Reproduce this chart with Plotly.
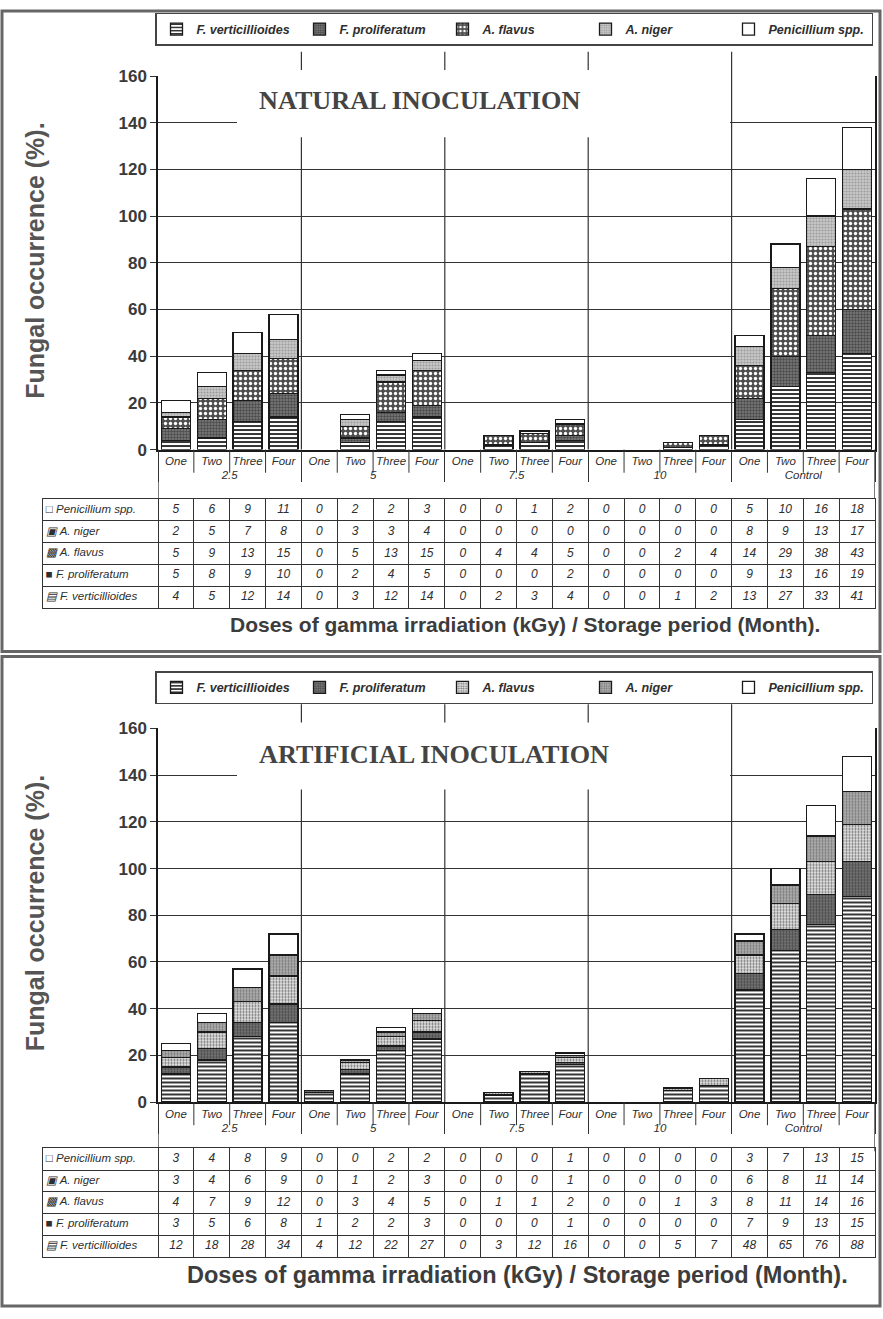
import plotly.graph_objects as go

W, H = 883, 1319

# ---------------- data ----------------
groups = ["2.5"] * 4 + ["5"] * 4 + ["7.5"] * 4 + ["10"] * 4 + ["Control"] * 4
months = ["One", "Two", "Three", "Four"] * 5
series_names = ["F. verticillioides", "F. proliferatum", "A. flavus", "A. niger", "Penicillium spp."]
table_symbols = ["▤", "■", "▩", "▣", "□"]
y_ticks = [0, 20, 40, 60, 80, 100, 120, 140, 160]

nat_vert = [4, 5, 12, 14, 0, 3, 12, 14, 0, 2, 3, 4, 0, 0, 1, 2, 13, 27, 33, 41]
nat_prol = [5, 8, 9, 10, 0, 2, 4, 5, 0, 0, 0, 2, 0, 0, 0, 0, 9, 13, 16, 19]
nat_flav = [5, 9, 13, 15, 0, 5, 13, 15, 0, 4, 4, 5, 0, 0, 2, 4, 14, 29, 38, 43]
nat_nig = [2, 5, 7, 8, 0, 3, 3, 4, 0, 0, 0, 0, 0, 0, 0, 0, 8, 9, 13, 17]
nat_pen = [5, 6, 9, 11, 0, 2, 2, 3, 0, 0, 1, 2, 0, 0, 0, 0, 5, 10, 16, 18]

art_vert = [12, 18, 28, 34, 4, 12, 22, 27, 0, 3, 12, 16, 0, 0, 5, 7, 48, 65, 76, 88]
art_prol = [3, 5, 6, 8, 1, 2, 2, 3, 0, 0, 0, 1, 0, 0, 0, 0, 7, 9, 13, 15]
art_flav = [4, 7, 9, 12, 0, 3, 4, 5, 0, 1, 1, 2, 0, 0, 1, 3, 8, 11, 14, 16]
art_nig = [3, 4, 6, 9, 0, 1, 2, 3, 0, 0, 0, 1, 0, 0, 0, 0, 6, 8, 11, 14]
art_pen = [3, 4, 8, 9, 0, 0, 2, 2, 0, 0, 0, 1, 0, 0, 0, 0, 3, 7, 13, 15]

nat_series = [nat_vert, nat_prol, nat_flav, nat_nig, nat_pen]
art_series = [art_vert, art_prol, art_flav, art_nig, art_pen]

# ---------------- styling ----------------
SANS = "Liberation Sans"
SERIF = "Liberation Serif"
INK = "#2e2e2e"


def px(x):
    return x / W


def py(y):
    return 1 - y / H


nat_patterns = [
    dict(shape="-", fgcolor="#1e1e1e", bgcolor="white", size=4, solidity=0.45),
    dict(shape=".", fgcolor="#4a4a4a", bgcolor="#7c7c7c", size=3, solidity=0.5),
    dict(shape=".", fgcolor="white", bgcolor="#4e4e4e", size=5, solidity=0.35),
    dict(shape=".", fgcolor="#9a9a9a", bgcolor="#c9c9c9", size=3, solidity=0.4),
    None,
]
art_patterns = [
    dict(shape="-", fgcolor="#1e1e1e", bgcolor="white", size=4, solidity=0.45),
    dict(shape=".", fgcolor="#4a4a4a", bgcolor="#7c7c7c", size=3, solidity=0.5),
    dict(shape=".", fgcolor="#6a6a6a", bgcolor="#e4e4e4", size=3, solidity=0.4),
    dict(shape=".", fgcolor="#7a7a7a", bgcolor="#b4b4b4", size=3, solidity=0.45),
    None,
]

panels = [
    dict(series=nat_series, patterns=nat_patterns, title="NATURAL INOCULATION",
         plot_top=68, plot_bot=447, legend_top=4, table_top=497, table_bot=608,
         xtitle_y=625, xtitle_x=525, title_y=93, frame=(2, 2, 880, 652), xtitle_size=21),
    dict(series=art_series, patterns=art_patterns, title="ARTIFICIAL INOCULATION",
         plot_top=730, plot_bot=1109, legend_top=672, table_top=1156, table_bot=1266,
         xtitle_y=1285, xtitle_x=517, title_y=756, frame=(2, 657, 880, 1316), xtitle_size=23.5),
]

fig = go.Figure()
layout = dict(
    width=W, height=H, margin=dict(l=0, r=0, t=0, b=0),
    paper_bgcolor="white", plot_bgcolor="white", barmode="stack", bargap=0.19,
    shapes=[], annotations=[], showlegend=True,
)

PLOT_L, PLOT_R = 158, 875
TABLE_L = 43
COL_W = (PLOT_R - PLOT_L) / 20.0
LABEL_UNITS = (PLOT_L - TABLE_L) / COL_W

for i, p in enumerate(panels):
    n = "" if i == 0 else "2"
    xa, ya = "x" + n, "y" + n
    tn = str(3 + 2 * i)           # table axes index
    txa, tya = "x" + tn, "y" + tn
    legend_name = "legend" + n

    for k, (name, vals, pat) in enumerate(zip(series_names, p["series"], p["patterns"])):
        marker = dict(color="white", line=dict(color="#1a1a1a", width=1.3))
        if pat is not None:
            marker["pattern"] = dict(fillmode="replace", **pat)
        fig.add_trace(go.Bar(
            x=[groups, months], y=[v if v else None for v in vals], name=name,
            marker=marker, xaxis=xa, yaxis=ya, legend=legend_name, showlegend=True,
        ))

    # axes
    layout["xaxis" + n] = dict(
        type="multicategory", domain=[px(PLOT_L), px(PLOT_R)], anchor=ya,
        range=[-0.5, 19.5], showline=True, linecolor="#1a1a1a", linewidth=1.5,
        showgrid=False, ticks="outside", ticklen=8, tickcolor="rgba(0,0,0,0)",
        tickangle=0, showdividers=True,
        dividercolor="#333", dividerwidth=1.2,
        tickfont=dict(family=SANS, size=11.5, style="italic", color=INK),
    )
    layout["yaxis" + n] = dict(
        domain=[py(p["plot_bot"]), py(p["plot_top"])], anchor=xa, range=[0, 160],
        tickvals=y_ticks, showgrid=True, gridcolor="#333", gridwidth=1.3,
        showline=True, linecolor="#1a1a1a", linewidth=1.5, mirror=True,
        ticks="outside", ticklen=6, tickcolor="#333", zeroline=False,
        tickfont=dict(family=SANS, size=17, weight="bold", color="#3a3a3a"),
    )

    # legend
    layout[legend_name] = dict(
        x=px(155), y=py(p["legend_top"]), xanchor="left", yanchor="top",
        orientation="h", traceorder="normal", bgcolor="white",
        bordercolor="#444", borderwidth=1.5, itemwidth=30,
        entrywidth=98, entrywidthmode="pixels",
        font=dict(family=SANS, size=12.5, weight="bold", style="italic", color=INK),
    )

    # vertical group separators in the plot area
    for b in [3.5, 7.5, 11.5, 15.5]:
        layout["shapes"].append(dict(
            type="line", xref=xa, yref=ya + " domain", x0=b, x1=b, y0=0, y1=1.065,
            line=dict(color="#333", width=1.2), layer="below",
        ))
    # separators between months in the label row
    for b in [0.5, 1.5, 2.5, 4.5, 5.5, 6.5, 8.5, 9.5, 10.5, 12.5, 13.5, 14.5, 16.5, 17.5, 18.5]:
        layout["shapes"].append(dict(
            type="line", xref=xa, yref=ya + " domain", x0=b, x1=b, y0=0, y1=-0.062,
            line=dict(color="#333", width=1),
        ))
    # outer edges of the label block down to the table
    for b in [-0.5, 19.5]:
        layout["shapes"].append(dict(
            type="line", xref=xa, yref=ya + " domain", x0=b, x1=b, y0=0, y1=-0.132,
            line=dict(color="#333", width=1.3),
        ))

    # white title box hiding upper gridlines
    off = p["plot_top"] - 68
    layout["shapes"].append(dict(
        type="rect", xref="paper", yref="paper", x0=px(237), x1=px(730),
        y0=py(off + 130), y1=py(off + 62), fillcolor="white", line=dict(width=0),
        layer="above",
    ))
    layout["annotations"].append(dict(
        text="<b>%s</b>" % p["title"], xref="paper", yref="paper",
        x=px(257), y=py(p["title_y"]), xanchor="left", yanchor="middle", showarrow=False,
        font=dict(family=SERIF, size=26.2, color="#444"),
    ))

    # y axis title
    mid = (p["plot_top"] + p["plot_bot"]) / 2 - 2
    layout["annotations"].append(dict(
        text="<b>Fungal occurrence (%).</b>", xref="paper", yref="paper",
        x=px(35), y=py(mid), textangle=-90, showarrow=False,
        xanchor="center", yanchor="middle",
        font=dict(family=SANS, size=25, color="#555"),
    ))
    # x axis title
    layout["annotations"].append(dict(
        text="<b>Doses of gamma irradiation (kGy) / Storage period (Month).</b>",
        xref="paper", yref="paper", x=px(p["xtitle_x"]), y=py(p["xtitle_y"]),
        xanchor="center", yanchor="middle", showarrow=False,
        font=dict(family=SANS, size=p["xtitle_size"], color="#3c3c3c"),
    ))

    # panel frame
    x0, y0, x1, y1 = p["frame"]
    layout["shapes"].append(dict(
        type="rect", xref="paper", yref="paper", x0=px(x0), x1=px(x1),
        y0=py(y1), y1=py(y0), line=dict(color="#666", width=3), layer="above",
    ))

    # ---- data table drawn on its own axes (rows top->bottom: Penicillium ... F. vert.)
    order = [4, 3, 2, 1, 0]
    layout["xaxis" + tn] = dict(
        domain=[px(TABLE_L), px(PLOT_R)], anchor=tya,
        range=[-0.5 - LABEL_UNITS, 19.5], tickvals=[c - 0.5 for c in range(20)],
        showgrid=True, gridcolor="#333", gridwidth=1, showticklabels=False,
        ticks="", zeroline=False, showline=True, mirror=True,
        linecolor="#333", linewidth=1.2, fixedrange=True,
    )
    layout["yaxis" + tn] = dict(
        domain=[py(p["table_bot"]), py(p["table_top"])], anchor=txa,
        range=[5, 0], tickvals=[1, 2, 3, 4], showgrid=True, gridcolor="#333",
        gridwidth=1, showticklabels=False, ticks="", zeroline=False,
        showline=True, mirror=True, linecolor="#333", linewidth=1.2, fixedrange=True,
    )
    cx, cy, ct = [], [], []
    lx, ly, lt = [], [], []
    for r, k in enumerate(order):
        lx.append(-0.5 - LABEL_UNITS + 0.08)
        ly.append(r + 0.5)
        lt.append("%s %s" % (table_symbols[k], series_names[k]))
        for c in range(20):
            cx.append(c)
            cy.append(r + 0.5)
            ct.append(str(p["series"][k][c]))
    fig.add_trace(go.Scatter(
        x=cx, y=cy, text=ct, mode="text", textposition="middle center",
        textfont=dict(family=SANS, size=12, style="italic", color=INK),
        xaxis=txa, yaxis=tya, showlegend=False, hoverinfo="skip",
    ))
    fig.add_trace(go.Scatter(
        x=lx, y=ly, text=lt, mode="text", textposition="middle right",
        textfont=dict(family=SANS, size=11.5, style="italic", color=INK),
        xaxis=txa, yaxis=tya, showlegend=False, hoverinfo="skip",
    ))

fig.update_layout(**layout)
fig.write_html("out.html")
